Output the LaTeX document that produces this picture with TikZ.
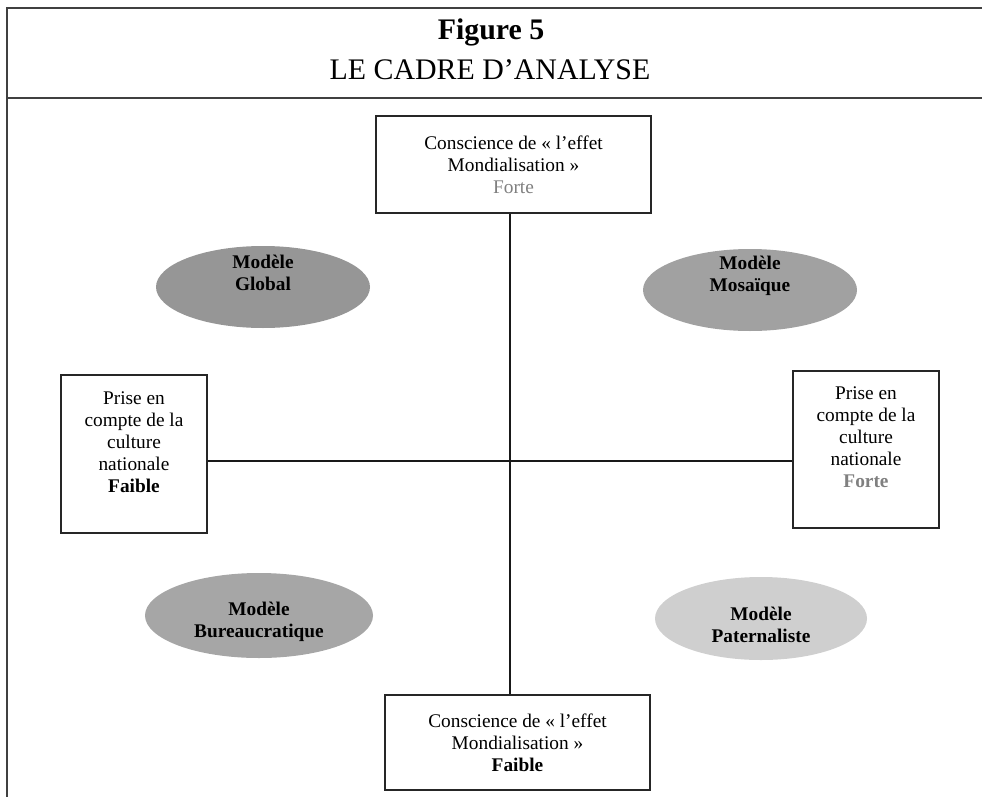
\documentclass[tikz,border=0pt]{standalone}
\usepackage{fontspec}
\setmainfont{Liberation Serif}
\usepackage{tikz}
\usetikzlibrary{shapes.geometric}
\usetikzlibrary{positioning}
\definecolor{globalgrey}{gray}{0.59}
\definecolor{mosaicgrey}{gray}{0.63}
\definecolor{bureaugrey}{gray}{0.65}
\definecolor{patergrey}{gray}{0.81}
\definecolor{fortegrey}{gray}{0.5}

\def\pxl{0.02cm}

\begin{document}
\begin{tikzpicture}[x=\pxl, y=-\pxl,
  axisbox/.style={draw=black!85, line width=0.7pt, fill=white, align=center,
    font=\fontsize{11}{12.5}\selectfont, inner sep=0pt},
  model/.style={ellipse, draw=none, inner sep=0pt},
  modeltext/.style={align=center, font=\fontsize{11}{12.5}\selectfont\bfseries},
  axisline/.style={line width=0.6pt, black!90}]

\useasboundingbox (0,0) rectangle (982,797);

%---------------------------------------
% Frame and title
%---------------------------------------
\draw[line width=1.1pt, black!75] (982,8) -- (7,8) -- (7,797);
\draw[line width=1.1pt, black!75] (7,98) -- (982,98);

\node[font=\fontsize{17}{20}\selectfont\bfseries] (figno) at (491,32) {Figure 5};
\node[font=\fontsize{17}{20}\selectfont] (figtitle) at (490,70) {LE CADRE D'ANALYSE};

%---------------------------------------
% Axis boxes
%---------------------------------------
\node[axisbox, minimum width=275*\pxl, minimum height=97*\pxl] (top) at (513.5,164.5)
  {Conscience de «~l'effet\\ Mondialisation~»\\ \textcolor{fortegrey}{Forte}};
\node[axisbox, minimum width=265*\pxl, minimum height=95*\pxl] (bottom) at (517.5,742.5)
  {Conscience de «~l'effet\\ Mondialisation~»\\ \textbf{Faible}};
\node[axisbox, minimum width=146*\pxl, minimum height=158*\pxl, text depth=14pt] (left) at (134,454)
  {Prise en\\ compte de la\\ culture\\ nationale\\ \textbf{Faible}};
\node[axisbox, minimum width=146*\pxl, minimum height=157*\pxl, text depth=14pt] (right) at (866,449.5)
  {Prise en\\ compte de la\\ culture\\ nationale\\ \textbf{\textcolor{fortegrey}{Forte}}};

% Axes
\coordinate (origin) at (510,461);
\draw[axisline] (top.south -| origin) -- (bottom.north -| origin);
\draw[axisline] (left.east |- origin) -- (right.west |- origin);

%---------------------------------------
% Models
%---------------------------------------
\node[model, fill=globalgrey, minimum width=214*\pxl, minimum height=82*\pxl] (global) at (263,287) {};
\node[model, fill=mosaicgrey, minimum width=214*\pxl, minimum height=82*\pxl] (mosaic) at (750,290) {};
\node[model, fill=bureaugrey, minimum width=228*\pxl, minimum height=85*\pxl] (bureau) at (259,615.5) {};
\node[model, fill=patergrey, minimum width=212*\pxl, minimum height=83*\pxl] (pater) at (761,618.5) {};

\node[modeltext] (globaltxt) at ([yshift=8pt]global.center) {Modèle\\ Global};
\node[modeltext] (mosaictxt) at ([yshift=8pt]mosaic.center) {Modèle\\ Mosaïque};
\node[modeltext] (bureautxt) at ([yshift=-3.4pt]bureau.center) {Modèle\\ Bureaucratique};
\node[modeltext] (patertxt) at ([yshift=-3.7pt]pater.center) {Modèle\\ Paternaliste};

\end{tikzpicture}
\end{document}
